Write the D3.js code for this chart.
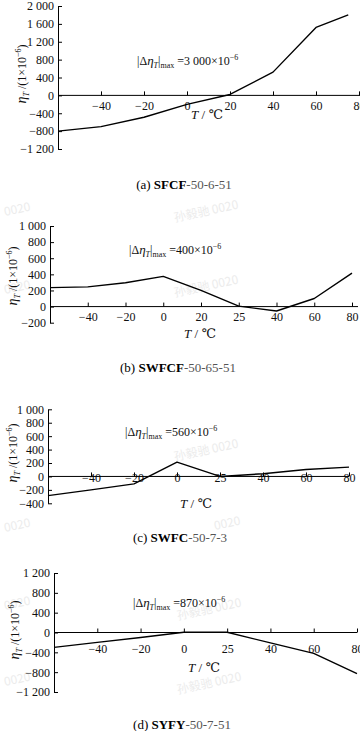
<!DOCTYPE html>
<html><head><meta charset="utf-8">
<script src="https://cdn.jsdelivr.net/npm/d3@7"></script>
<style>body{margin:0;background:#fff}svg{display:block}text{font-family:"Liberation Serif","Times New Roman",Times,"DejaVu Serif",serif;fill:#111}</style>
</head><body>
<svg id="c" width="360" height="731" font-family="Liberation Serif, Times New Roman, serif"></svg>
<script>
// ---- data ----
const aTemp=[-60,-40,-20,0,20,40,60,75];
const aEta=[-800,-700,-490,-200,20,520,1520,1800];
const aXTicks=[-40,-20,0,20,40,60,80];
const aYTicks=[-1200,-800,-400,0,400,800,1200,1600,2000];
const bCats=["-60","-40","-20","0","20","25","40","60","80"];
const bEta=[235,245,295,375,200,5,-55,100,415];
const bYTicks=[-200,0,200,400,600,800,1000];
const cCats=["-60","-40","-20","0","25","40","60","80"];
const cEta=[-285,-200,-110,212,0,40,104,139];
const cYTicks=[-400,-200,0,200,400,600,800,1000];
const dCats=["-60","-40","-20","0","25","40","60","80"];
const dEta=[-300,-200,-100,5,5,-210,-420,-830];
const dYTicks=[-1200,-800,-400,0,400,800,1200];
const annValues=["3 000","400","560","870"];
const capLetters=["(a) ","(b) ","(c) ","(d) "];
const capHeads=["SFCF","SWFCF","SWFC","SYFY"];
const capTails=["-50-6-51","-50-65-51","-50-7-3","-50-7-51"];
const watermark="孙毅驰 0020";
const watermarkTail="0020";

const svg=d3.select("#c");
const minus=s=>String(s).replace("-","\u2212");
const fmtY=d=>{const a=Math.abs(d);let s=a>=1000?Math.floor(a/1000)+" "+String(a%1000).padStart(3,"0"):String(a);return (d<0?"\u2212":"")+s;};

// watermarks (faint)
const wm=[[175,222,watermark],[175,297,watermark],[5,216,watermarkTail],[5,294,watermarkTail],[175,461,watermark],[5,532,watermarkTail],[215,530,watermarkTail],[178,620,watermark],[178,694,watermark],[5,610,watermarkTail],[5,686,watermarkTail]];
svg.append("g").selectAll("text").data(wm).join("text")
 .attr("transform",d=>`translate(${d[0]},${d[1]}) rotate(-12)`)
 .style("font-family","'Noto Sans CJK SC',sans-serif").style("font-size","12px").style("fill","#ececec")
 .text(d=>d[2]);

const panels=[
 {kind:"lin",xs:aTemp,ys:aEta,xTicks:aXTicks,yTicks:aYTicks,x0:58,x1:359,xEnd:360,yTop:6,yBot:149,
  lab:10,ylX:22,ylY:74,tX:207,tY:114,annX:137,annY:61,capX:184,capY:184},
 {kind:"cat",xs:bCats,ys:bEta,yTicks:bYTicks,x0:50,x1:352,xEnd:358,yTop:226,yBot:322.7,
  lab:10,ylX:13,ylY:276,tX:200,tY:333,annX:129,annY:250,capX:178,capY:367},
 {kind:"cat",xs:cCats,ys:cEta,yTicks:cYTicks,x0:48,x1:349,xEnd:349,yTop:409.3,yBot:503.3,
  lab:1,ylX:13,ylY:453,tX:196,tY:503,annX:125,annY:432,capX:180,capY:537},
 {kind:"cat",xs:dCats,ys:dEta,yTicks:dYTicks,x0:54,x1:357,xEnd:357,yTop:573,yBot:692,
  lab:16,ylX:15,ylY:630,tX:204,tY:667,annX:133,annY:603,capX:182,capY:724}
];

panels.forEach((p,i)=>{
 const g=svg.append("g");
 const yd=[p.yTicks[0],p.yTicks[p.yTicks.length-1]];
 const y=d3.scaleLinear().domain(yd).range([p.yBot,p.yTop]);
 let x,xTickVals;
 if(p.kind==="lin"){x=d3.scaleLinear().domain([-60,80]).range([p.x0,p.x1]);xTickVals=p.xTicks;}
 else{x=d3.scalePoint().domain(p.xs).range([p.x0,p.x1]).padding(0);xTickVals=p.xs.slice(1);}
 const y0=y(0);
 const ya=g.append("g").attr("transform",`translate(${p.x0},0)`)
  .call(d3.axisLeft(y).tickValues(p.yTicks).tickFormat(fmtY).tickSize(-4).tickSizeOuter(0).tickPadding(4));
 const xa=g.append("g").attr("transform",`translate(0,${y0})`)
  .call(d3.axisBottom(x).tickValues(xTickVals).tickFormat(d=>minus(d)).tickSize(-4).tickSizeOuter(0).tickPadding(p.lab-4));
 xa.select(".domain").remove();
 g.append("line").attr("x1",p.x0).attr("x2",p.xEnd).attr("y1",y0).attr("y2",y0).attr("stroke","#000").attr("stroke-width",1);
 [ya,xa].forEach(a=>{a.attr("font-family",null).attr("font-size",null);
   a.selectAll("text").style("font-family","'Liberation Serif','Times New Roman',serif").style("font-size","12px").attr("fill","#111");
   a.selectAll("line,path").attr("stroke","#000");});
 const line=d3.line().x((d,k)=>x(p.xs[k])).y(d=>y(d));
 g.append("path").datum(p.ys).attr("d",line).attr("fill","none").attr("stroke","#000").attr("stroke-width",1.4).attr("stroke-linejoin","round");
 // y label
 const yl=g.append("text").attr("transform",`translate(${p.ylX},${p.ylY}) rotate(-90)`).attr("text-anchor","middle").attr("dy","0.35em").style("font-size","12px");
 yl.append("tspan").style("font-style","italic").style("font-size","14px").text("η");
 yl.append("tspan").style("font-style","italic").style("font-size","8px").attr("dy",3).text("T");
 yl.append("tspan").attr("dy",-3).text(" /(1×10");
 yl.append("tspan").style("font-size","8px").attr("dy",-5).text("\u22126");
 yl.append("tspan").attr("dy",5).text(")");
 // T label
 const tl=g.append("text").attr("x",p.tX).attr("y",p.tY).attr("dy","0.35em").attr("text-anchor","middle").style("font-size","13px");
 tl.append("tspan").style("font-style","italic").text("T");
 tl.append("tspan").text(" / ℃");
 // annotation
 const an=g.append("text").attr("x",p.annX).attr("y",p.annY).attr("dy","0.35em").style("font-size","12px");
 an.append("tspan").text("|Δ");
 an.append("tspan").style("font-style","italic").style("font-size","13px").text("η");
 an.append("tspan").style("font-style","italic").style("font-size","8px").attr("dy",3).text("T");
 an.append("tspan").attr("dy",-3).text("|");
 an.append("tspan").style("font-size","8px").attr("dy",3).text("max");
 an.append("tspan").attr("dy",-3).text(" =" + annValues[i] + "×10");
 an.append("tspan").style("font-size","8px").attr("dy",-5).text("\u22126");
 // caption
 const cp=g.append("text").attr("x",p.capX).attr("y",p.capY).attr("dy","0.35em").attr("text-anchor","middle").style("font-size","13px");
 cp.append("tspan").attr("fill","#000").text(capLetters[i]);
 cp.append("tspan").attr("fill","#000").style("font-weight","600").text(capHeads[i]);
 cp.append("tspan").attr("fill","#555").text(capTails[i]);
});
</script>
</body></html>
